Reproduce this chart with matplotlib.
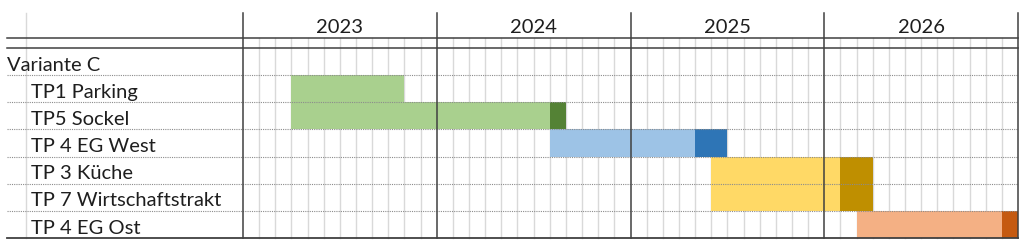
import matplotlib
matplotlib.use("Agg")
import matplotlib.pyplot as plt

# ---- data ----
group_label = "Variante C"
tasks = ["TP1 Parking", "TP5 Sockel", "TP 4 EG West", "TP 3 Küche",
         "TP 7 Wirtschaftstrakt", "TP 4 EG Ost"]
# months counted from Jan 2023 (0 = start of Jan 2023)
start = [3, 3, 19, 29, 29, 38]
main_months = [7, 16, 9, 8, 8, 9]
buffer_months = [0, 1, 2, 2, 2, 1]
main_colors = ["#A9D08E", "#A9D08E", "#9DC3E6", "#FFD966", "#FFD966", "#F4B084"]
buffer_colors = ["#548235", "#548235", "#2E75B6", "#BF8F00", "#BF8F00", "#C55A11"]
years = ["2023", "2024", "2025", "2026"]
months_per_year = 12

# ---- layout (pixel mapping) ----
W, H = 1024, 243
x0_px, x1_px = 243, 1018
n_months = months_per_year * len(years)
mw = (x1_px - x0_px) / n_months
row_top_px = 48
row_h = (238 - row_top_px) / 7

def px2x(px):
    return (px - x0_px) / mw

def py2y(py):
    return (py - row_top_px) / row_h

fig = plt.figure(figsize=(W / 100, H / 100), dpi=100)
ax = fig.add_axes([0, 0, 1, 1])
ax.set_xlim(px2x(0), px2x(W))
ax.set_ylim(py2y(H), py2y(0))
ax.axis("off")

plt.rcParams['font.family'] = ['Lato', 'DejaVu Sans']
dark = "#404040"
light = "#D9D9D9"
txt = "#1E1E1E"
fs = 14.5
base_off = 4.5 / row_h  # baseline sits a few px above row bottom

y_top = py2y(13)
y_dbl = py2y(38)
n_rows = 1 + len(tasks)
xl, xr = px2x(7), px2x(x1_px)

# month grid lines
for m in range(1, n_months):
    if m % months_per_year:
        ax.plot([m, m], [y_dbl, n_rows], color=light, lw=1.0, zorder=1)
# left light column line
ax.plot([px2x(26)] * 2, [y_top, n_rows], color=light, lw=1.0, zorder=1)

# bars
for i, t in enumerate(tasks):
    y = i + 1.5
    ax.barh(y, main_months[i], left=start[i], height=1.0,
            color=main_colors[i], zorder=2)
    if buffer_months[i]:
        ax.barh(y, buffer_months[i], left=start[i] + main_months[i],
                height=1.0, color=buffer_colors[i], zorder=2)

# row separators (dotted)
for r in range(1, n_rows):
    ax.plot([xl, xr], [r, r], color="#8C8C8C", lw=0.8,
            linestyle=(0, (1, 1)), zorder=3)

# header double lines and bottom line
ax.plot([xl, xr], [y_dbl, y_dbl], color=dark, lw=1.1, zorder=4)
ax.plot([xl, xr], [0, 0], color=dark, lw=1.1, zorder=4)
ax.plot([xl, xr], [n_rows, n_rows], color=dark, lw=1.3, zorder=4)

# year lines
for k in range(len(years) + 1):
    xm = k * months_per_year
    ax.plot([xm, xm], [y_top, n_rows], color=dark, lw=1.1, zorder=4)

# year labels
for k, yr in enumerate(years):
    ax.text(k * months_per_year + months_per_year / 2, py2y(33), yr,
            ha="center", va="baseline", fontsize=fs, color=txt)

# row labels
ax.text(px2x(7), 1 - base_off, group_label, ha="left", va="baseline",
        fontsize=fs, color=txt)
for i, t in enumerate(tasks):
    ax.text(px2x(31), i + 2 - base_off, t, ha="left", va="baseline",
            fontsize=fs, color=txt)

fig.savefig("out.png", dpi=100, facecolor="white")
